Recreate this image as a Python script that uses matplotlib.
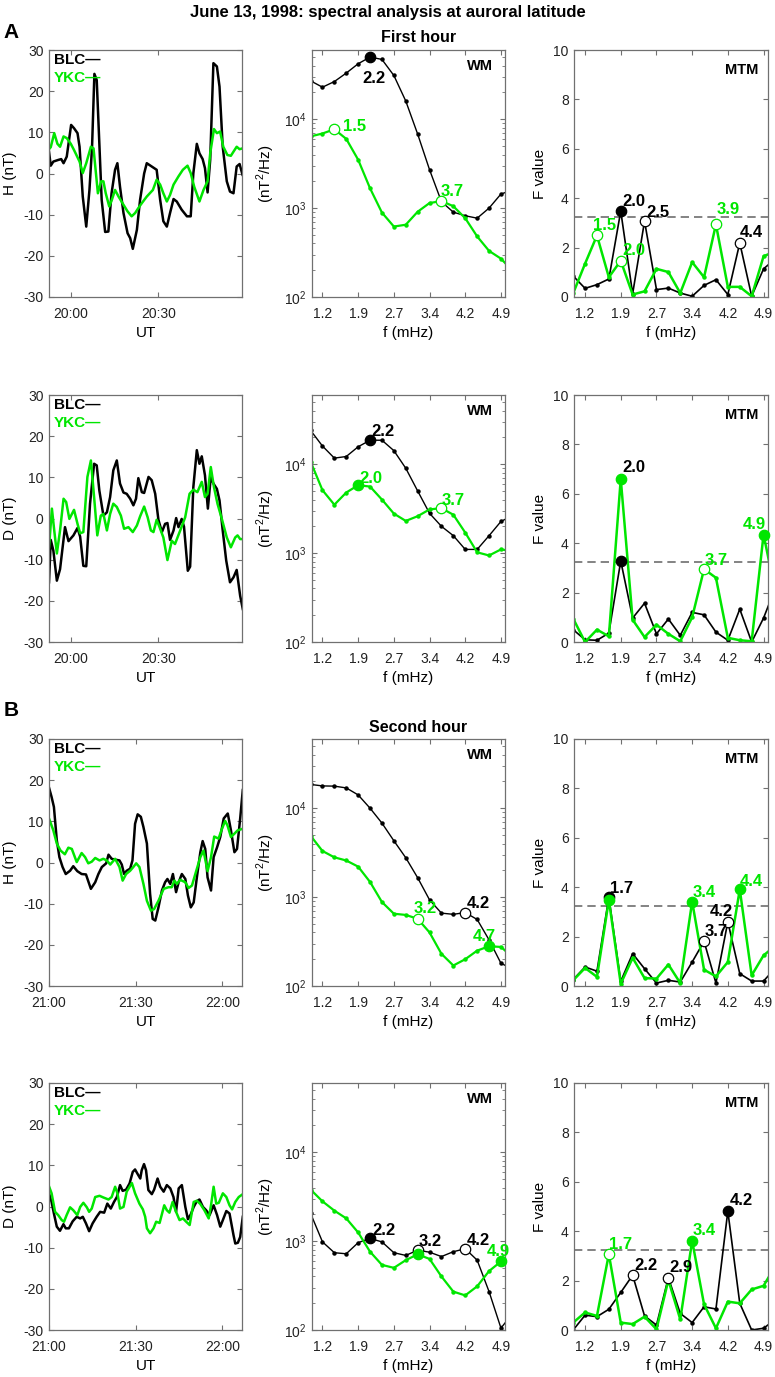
import numpy as np
import matplotlib
matplotlib.use('Agg')
import matplotlib.pyplot as plt
from matplotlib.ticker import LogLocator, NullFormatter

plt.rcParams['font.family'] = ['Liberation Sans', 'DejaVu Sans']
plt.rcParams['axes.unicode_minus'] = False
plt.rcParams['mathtext.fontset'] = 'custom'
plt.rcParams['mathtext.rm'] = 'Liberation Sans'

GREEN = '#00e600'
FRAME = '#707070'

# ---- time series (minutes after the hour mark) ----
h1_t_blc = [-7.6, -7.0, -6.1, -4.4, -3.4, -2.6, -1.5, 0.0, 1.0, 2.2, 2.9, 4.0, 5.2, 6.3, 7.2, 8.0, 8.8, 9.6, 10.5, 11.7,
            12.8, 13.9, 15.1, 15.9, 16.8, 18.0, 19.4, 20.3, 21.2, 22.6, 23.7, 25.1, 26.0, 27.7, 29.4, 30.6, 31.7, 32.9,
            34.0, 35.2, 36.3, 38.0, 39.8, 41.1, 42.0, 43.2, 44.1, 45.2, 46.0, 46.9, 47.8, 48.9, 50.1, 51.0, 52.1, 53.5,
            54.6, 55.8, 56.9, 57.9, 58.9]
h1_blc = [5.3, 1.9, 2.9, 3.3, 3.5, 2.5, 4.1, 11.8, 11.0, 9.8, 6.5, -5.6, -12.9, -4.0, 6.5, 24.2, 22.7, 9.0, -6.4, -14.2,
          -14.1, -4.8, 0.9, 2.5, -3.2, -9.6, -14.5, -15.7, -18.3, -13.7, -6.4, 0.0, 2.5, 1.7, 0.9, -6.4, -11.6, -12.9,
          -9.6, -6.2, -6.8, -8.8, -10.4, -10.4, 0.0, 7.2, 4.9, 3.5, 1.3, -4.6, 3.3, 26.8, 26.0, 21.1, 6.5, -1.9,
          -4.4, -4.8, 1.7, 2.3, -0.3]
h1_t_ykc = [-7.6, -7.0, -5.8, -4.7, -3.8, -2.6, -1.5, -0.1, 1.0, 2.9, 4.0, 5.2, 6.8, 7.7, 9.2, 10.3, 11.1, 11.9, 13.1,
            14.0, 15.1, 16.3, 18.0, 19.4, 20.8, 22.0, 23.1, 24.3, 26.0, 28.1, 29.4, 30.6, 31.7, 32.9, 34.0, 35.2, 36.9,
            38.4, 40.0, 41.1, 42.3, 44.1, 45.5, 46.9, 47.8, 49.1, 50.1, 51.2, 52.3, 53.7, 54.9, 55.8, 56.9, 57.9, 58.9]
h1_ykc = [5.9, 6.4, 9.8, 7.2, 6.5, 9.0, 8.6, 7.2, 5.7, 2.9, 0.1, 2.5, 6.5, 6.1, -4.8, -1.9, -1.9, -4.8, -8.0, -6.4, -4.0,
          -5.6, -7.6, -9.2, -10.4, -9.6, -8.4, -7.2, -5.6, -4.0, -1.5, -2.7, -4.8, -6.8, -5.2, -2.7, -0.7, 0.9, 1.9,
          0.1, -3.2, -6.8, -4.0, -1.9, 4.9, 10.8, 9.8, 10.2, 6.5, 4.5, 4.3, 5.3, 6.5, 5.9, 6.1]

d1_t_blc = [-7.6, -7.0, -6.1, -4.9, -3.8, -2.1, -0.9, 0.8, 2.2, 3.1, 4.2, 5.2, 6.5, 7.9, 8.8, 9.7, 11.1, 12.3, 13.4, 14.5,
            15.7, 16.8, 18.0, 19.1, 20.3, 21.4, 22.3, 23.1, 24.3, 25.1, 26.6, 27.7, 28.9, 30.0, 31.2, 32.3, 33.1, 34.0,
            35.2, 36.1, 36.9, 38.0, 38.8, 40.1, 40.9, 42.0, 43.2, 44.1, 44.9, 46.0, 47.0, 48.0, 48.9, 50.1, 51.0, 52.1,
            53.3, 54.6, 55.8, 56.9, 58.1, 59.0]
d1_blc = [-15.5, -5.2, -7.8, -15.1, -12.3, -2.1, -5.5, -4.1, -2.3, -4.4, -11.5, -11.6, 3.6, 13.3, 12.9, 6.8, 0.7, 1.5,
          5.2, 11.7, 14.1, 8.5, 6.3, 6.0, 4.8, 3.2, 4.8, 9.8, 6.4, 6.2, 10.1, 9.3, 6.0, -0.3, -3.3, -1.3, -1.1, -5.2,
          -2.9, 0.1, -2.1, -0.1, -2.0, -12.7, -11.7, 7.6, 16.6, 13.3, 15.1, 10.5, 2.4, 10.1, 8.5, 7.2, 4.4, -2.9,
          -10.2, -15.5, -14.3, -12.5, -18.8, -22.0]
d1_t_ykc = [-7.6, -6.6, -5.8, -4.9, -3.8, -2.6, -1.7, -0.6, 1.0, 2.2, 3.1, 4.2, 5.6, 6.8, 7.9, 9.0, 10.2, 11.1, 12.3,
            13.4, 14.5, 15.7, 17.1, 18.2, 19.7, 21.2, 22.6, 23.7, 25.1, 26.3, 27.4, 28.3, 29.4, 30.4, 31.7, 33.1, 34.6,
            35.7, 37.5, 39.2, 40.7, 42.0, 43.4, 44.9, 46.0, 46.9, 48.0, 49.1, 50.3, 51.8, 53.5, 54.9, 56.4, 57.2, 58.1,
            58.9]
d1_ykc = [-7.0, 2.4, -2.9, -8.5, -2.9, 4.8, 4.0, -0.1, 2.1, -1.3, -3.6, -3.3, 10.1, 14.1, 5.2, -4.1, 0.7, 1.1, -2.9,
          1.1, 3.6, 2.8, 0.7, -2.5, -2.1, -3.3, -1.7, 0.5, 2.9, 0.3, -2.9, -3.3, -0.3, -2.1, -4.6, -10.1, -5.4, -6.2,
          -2.9, 0.3, 6.0, 7.0, 6.4, 8.9, 5.2, 6.0, 12.5, 7.6, 3.6, -0.1, -4.6, -7.0, -4.6, -4.1, -5.0, -5.0]

h2_t_blc = [0.0, 0.9, 1.7, 2.7, 3.6, 4.7, 5.8, 7.3, 8.4, 9.8, 11.3, 12.8, 14.5, 16.0, 17.1, 18.3, 19.8, 20.6, 21.7, 22.9,
            24.4, 25.2, 26.0, 26.9, 28.1, 28.9, 29.8, 30.7, 31.8, 32.7, 33.9, 35.0, 35.9, 36.8, 37.9, 39.1, 40.2, 41.0,
            42.0, 42.9, 44.0, 44.9, 46.0, 47.2, 48.1, 49.1, 50.1, 51.2, 52.4, 53.2, 54.1, 54.9, 56.1, 57.0, 58.2, 59.3,
            60.5, 61.9, 63.0, 64.2, 65.1, 66.2, 67.1]
h2_blc = [18.2, 15.9, 13.5, 5.4, 1.3, -1.1, -2.8, -2.0, -0.9, -2.1, -2.8, -2.9, -6.4, -4.8, -2.8, -1.1, -0.2, 1.9, 0.9,
          0.7, 0.5, -0.5, -2.8, -2.0, -1.5, 0.5, 9.4, 11.7, 11.1, 8.6, 4.6, -7.6, -13.7, -14.1, -10.9, -6.8, -4.8,
          -4.0, -5.2, -2.8, -7.2, -4.8, -2.8, -4.0, -8.0, -10.9, -9.7, -3.6, 2.5, 5.2, 3.3, -3.6, -6.8, 1.3, 3.7, 6.2,
          10.7, 11.9, 7.8, 2.5, 3.3, 10.7, 17.6]
h2_t_ykc = [0.0, 1.5, 2.7, 4.0, 5.5, 6.7, 7.9, 9.6, 11.3, 12.5, 13.6, 14.8, 16.0, 17.5, 18.8, 20.0, 21.2, 22.9, 24.4,
            25.5, 26.7, 28.1, 29.2, 30.2, 31.3, 32.7, 33.9, 35.3, 36.4, 37.9, 39.7, 41.4, 42.5, 43.4, 44.3, 45.4, 47.2,
            48.3, 49.5, 51.0, 52.4, 53.5, 54.9, 56.1, 57.2, 58.7, 59.9, 61.0, 61.8, 63.0, 64.2, 65.3, 67.1]
h2_ykc = [10.7, 7.8, 4.6, 2.9, 2.0, 3.6, 3.3, 0.1, 2.3, 1.3, -0.2, 0.2, 1.1, 0.5, 0.9, 0.5, -0.5, 0.9, -1.1, -4.4, -2.8,
          -2.0, -1.1, -0.2, -1.1, -5.2, -9.3, -11.7, -11.3, -9.3, -6.4, -6.0, -6.0, -4.4, -5.2, -4.2, -4.8, -6.2, -5.6,
          -2.0, 1.3, 2.9, -2.1, 1.3, 6.3, 5.8, 8.2, 10.1, 9.0, 6.2, 7.0, 7.8, 8.2]

d2_t_blc = [0.0, 0.9, 1.7, 2.7, 3.8, 5.0, 5.8, 6.9, 8.2, 9.6, 10.8, 11.7, 12.8, 13.9, 15.1, 16.5, 17.7, 19.1, 20.2, 21.4,
            22.5, 23.5, 24.6, 25.5, 26.7, 27.9, 29.0, 29.8, 30.6, 31.6, 32.1, 32.9, 33.6, 34.4, 35.6, 36.4, 37.6, 38.5,
            39.7, 40.8, 42.0, 43.1, 44.0, 44.9, 46.0, 47.2, 48.1, 49.1, 50.1, 51.2, 52.1, 53.3, 54.4, 55.6, 57.0, 58.2,
            59.3, 60.2, 61.4, 62.5, 63.9, 64.5, 65.4, 66.2, 67.1]
d2_blc = [3.2, 1.1, -1.7, -4.9, -5.9, -4.3, -5.3, -5.3, -3.6, -2.5, -2.9, -2.5, -4.1, -6.0, -4.1, -2.5, -1.3, -1.5, 0.7,
          -0.5, 1.1, 2.3, 5.2, 3.8, 4.1, 5.6, 8.4, 9.0, 8.0, 6.8, 8.8, 10.3, 8.8, 4.0, 3.0, 4.1, 6.8, 4.8, 3.6, 5.2,
          4.4, 2.3, -1.3, 4.4, 5.2, -0.1, -3.1, -1.9, -0.1, 1.3, 1.7, -0.1, -0.9, -2.1, 0.3, -2.1, -4.9, -3.3, -1.1,
          -1.7, -7.0, -9.0, -8.8, -7.4, -2.5]
d2_t_ykc = [0.0, 0.9, 2.1, 3.2, 4.4, 5.2, 6.1, 7.3, 8.4, 9.8, 10.8, 11.9, 13.1, 13.9, 14.8, 16.0, 17.5, 18.8, 20.6,
            21.7, 22.9, 23.7, 24.6, 25.8, 26.9, 28.7, 29.8, 31.3, 32.5, 33.3, 33.9, 35.0, 36.2, 37.1, 38.3, 39.9, 40.8,
            41.7, 42.8, 44.0, 45.2, 46.4, 47.5, 48.7, 50.1, 51.2, 52.4, 53.8, 55.3, 56.1, 57.0, 57.9, 58.8, 60.2, 61.4,
            62.5, 63.4, 64.5, 65.7, 67.1]
d2_ykc = [4.9, 3.2, -1.3, -2.1, -3.3, -3.7, -2.1, -0.2, -0.9, -2.1, -0.1, 0.9, -0.2, -1.3, -0.5, 2.3, 2.6, 2.2, 1.7,
          2.3, 4.8, 3.2, -0.5, -0.1, 3.6, 5.7, 3.2, 0.7, -0.7, -2.5, -5.3, -6.5, -5.3, -3.7, -4.0, 0.3, -0.9, -1.5,
          1.1, -1.3, -3.3, -2.9, -3.7, -4.5, 1.1, 1.4, 0.6, -0.9, -2.9, 0.3, 4.8, 0.7, 0.9, 3.2, 2.3, 0.3, -0.7, 1.1,
          2.3, 3.0]

# ---- spectra ----
f_mhz = [0.977, 1.221, 1.465, 1.709, 1.953, 2.197, 2.441, 2.686, 2.930, 3.174, 3.418, 3.662, 3.906, 4.150, 4.395,
         4.639, 4.883, 5.127]
f_tick_idx = [1, 4, 7, 10, 13, 16]
f_tick_labels = ['1.2', '1.9', '2.7', '3.4', '4.2', '4.9']

wm_h1_blc = [2.7e4, 2.29e4, 2.65e4, 3.3e4, 4.2e4, 5.0e4, 4.7e4, 3.1e4, 1.6e4, 6.8e3, 2.7e3, 1.18e3, 9.0e2, 8.2e2,
             7.7e2, 1.0e3, 1.44e3, 1.6e3]
wm_h1_ykc = [6.4e3, 6.9e3, 7.7e3, 6.0e3, 3.5e3, 1.67e3, 8.9e2, 6.2e2, 6.5e2, 9.1e2, 1.14e3, 1.2e3, 1.05e3, 7.7e2,
             4.8e2, 3.3e2, 2.7e2, 1.95e2]
mtm_h1_blc = [0.85, 0.35, 0.5, 0.73, 3.48, 0.13, 3.07, 0.3, 0.36, 0.16, 0.03, 0.47, 0.7, 0.1, 2.19, 0.03, 1.14, 1.55]
mtm_h1_ykc = [0.15, 1.35, 2.49, 0.8, 1.47, 0.1, 0.23, 1.14, 1.01, 0.16, 1.41, 0.8, 2.94, 0.41, 0.41, 0.03, 1.65, 1.85]

wm_d1_blc = [2.4e4, 1.6e4, 1.17e4, 1.22e4, 1.57e4, 1.86e4, 1.86e4, 1.42e4, 9.0e3, 5.0e3, 2.8e3, 2.0e3, 1.57e3, 1.1e3,
             1.1e3, 1.57e3, 2.27e3, 2.65e3]
wm_d1_ykc = [1.07e4, 5.1e3, 3.5e3, 4.8e3, 5.8e3, 5.6e3, 4.0e3, 2.78e3, 2.3e3, 2.6e3, 3.1e3, 3.2e3, 2.7e3, 1.7e3, 1.02e3,
             9.4e2, 1.1e3, 1.05e3]
mtm_d1_blc = [0.5, 0.09, 0.07, 0.36, 3.28, 0.97, 1.57, 0.33, 0.93, 0.27, 1.2, 1.1, 0.4, 0.07, 1.33, 0.0, 0.97, 2.2]
mtm_d1_ykc = [0.95, 0.0, 0.5, 0.23, 6.6, 0.9, 0.2, 0.7, 0.33, 0.03, 1.0, 2.95, 2.6, 0.17, 0.07, 0.03, 4.35, 2.0]

wm_h2_blc = [1.85e4, 1.78e4, 1.77e4, 1.69e4, 1.41e4, 1.0e4, 6.8e3, 4.3e3, 2.77e3, 1.65e3, 9.3e2, 6.6e2, 6.4e2, 6.7e2,
             5.6e2, 3.3e2, 1.8e2, 1.55e2]
wm_h2_ykc = [4.9e3, 3.3e3, 2.8e3, 2.58e3, 2.2e3, 1.48e3, 8.8e2, 6.5e2, 6.3e2, 5.7e2, 4.0e2, 2.3e2, 1.7e2, 2.0e2, 2.5e2,
             2.8e2, 2.75e2, 2.1e2]
mtm_h2_blc = [0.26, 0.77, 0.6, 3.6, 0.19, 1.31, 0.7, 0.12, 0.23, 0.16, 0.97, 1.81, 0.12, 2.6, 0.5, 0.2, 0.2, 0.73]
mtm_h2_ykc = [0.23, 0.73, 0.37, 3.48, 0.09, 1.14, 0.32, 0.3, 0.87, 0.12, 3.42, 0.66, 0.39, 0.97, 3.91, 0.43, 1.24, 1.63]

wm_d2_blc = [2.05e3, 9.8e2, 7.4e2, 7.2e2, 9.6e2, 1.07e3, 9.8e2, 7.4e2, 6.9e2, 7.9e2, 7.5e2, 6.7e2, 7.6e2, 8.2e2,
             6.1e2, 2.7e2, 1.05e2, 1.55e2]
wm_d2_ykc = [3.8e3, 2.8e3, 2.2e3, 1.8e3, 1.25e3, 7.6e2, 5.4e2, 5.0e2, 6.1e2, 7.1e2, 6.3e2, 4.0e2, 2.7e2, 2.45e2, 3.1e2,
             4.6e2, 5.9e2, 6.7e2]
mtm_d2_blc = [0.0, 0.6, 0.54, 0.84, 1.52, 2.22, 0.57, 0.2, 2.12, 0.67, 0.3, 0.94, 0.85, 4.81, 1.08, 0.0, 0.07, 0.43]
mtm_d2_ykc = [0.3, 0.71, 0.57, 3.07, 0.3, 0.24, 0.54, 0.03, 2.02, 0.43, 3.61, 1.04, 0.07, 1.15, 1.08, 1.64, 1.79, 2.6]

f_threshold = 3.25

# peaks: (station, freq index, label, filled)
pk_wm_h1 = [('BLC', 5, '2.2', True), ('YKC', 2, '1.5', False), ('YKC', 11, '3.7', False)]
pk_mtm_h1 = [('BLC', 4, '2.0', True), ('BLC', 6, '2.5', False), ('BLC', 14, '4.4', False),
             ('YKC', 2, '1.5', False), ('YKC', 4, '2.0', False), ('YKC', 12, '3.9', False)]
pk_wm_d1 = [('BLC', 5, '2.2', True), ('YKC', 4, '2.0', True), ('YKC', 11, '3.7', False)]
pk_mtm_d1 = [('BLC', 4, '2.0', True), ('YKC', 4, None, True), ('YKC', 11, '3.7', False), ('YKC', 16, '4.9', True)]
pk_wm_h2 = [('YKC', 9, '3.2', False), ('BLC', 13, '4.2', False), ('YKC', 15, '4.7', True)]
pk_mtm_h2 = [('BLC', 3, '1.7', True), ('YKC', 3, None, True), ('YKC', 10, '3.4', True), ('YKC', 14, '4.4', True),
             ('BLC', 11, '3.7', False), ('BLC', 13, '4.2', False)]
pk_wm_d2 = [('BLC', 5, '2.2', True), ('BLC', 9, '3.2', False), ('YKC', 9, None, True), ('BLC', 13, '4.2', False),
            ('YKC', 16, '4.9', True)]
pk_mtm_d2 = [('YKC', 3, '1.7', False), ('BLC', 5, '2.2', False), ('BLC', 8, '2.9', False), ('YKC', 10, '3.4', True),
             ('BLC', 13, '4.2', True)]

# label offsets from the marker, in pixels (x right, y up)
off_wm_h1 = [(4, -21), (20, 3), (11, 10)]
off_mtm_h1 = [(13, 10), (13, 9), (12, 10), (8, 10), (13, 10), (12, 15)]
off_wm_d1 = [(13, 9), (13, 7), (12, 8)]
off_mtm_d1 = [(13, 93), (0, 0), (12, 9), (-9, 10)]
off_wm_h2 = [(8, 10), (13, 9), (-5, 10)]
off_mtm_h2 = [(13, 9), (0, 0), (12, 9), (12, 8), (12, 10), (-7, 10)]
off_wm_d2 = [(14, 8), (13, 9), (0, 0), (13, 8), (-3, 10)]
off_mtm_d2 = [(12, 10), (13, 10), (13, 10), (12, 10), (13, 11)]

W, H = 775, 1377
fig = plt.figure(figsize=(W / 100, H / 100), dpi=100)

col_left = [49, 311.7, 574.3]
col_w = 193.5
row_top = [50, 395, 739, 1083]
row_h = 247


def make_ax(r, c):
    return fig.add_axes([col_left[c] / W, 1 - (row_top[r] + row_h) / H, col_w / W, row_h / H])


def style(ax):
    for s in ax.spines.values():
        s.set_color(FRAME)
        s.set_linewidth(0.9)
    ax.tick_params(which='both', direction='in', top=True, right=True, color=FRAME,
                   labelcolor='#222222', labelsize=10)
    ax.tick_params(axis='y', pad=4)
    ax.tick_params(axis='x', pad=7)
    ax.tick_params(which='major', length=3.5, width=0.8)
    ax.tick_params(which='minor', length=2, width=0.6)


def ts_panel(ax, tb, vb, ty, vy, ylab, ticks, labels, xlim):
    ax.plot(tb, vb, color='black', lw=1.8)
    ax.plot(ty, vy, color=GREEN, lw=1.8)
    ax.set_ylim(-30, 30)
    ax.set_yticks(range(-30, 31, 10))
    ax.set_xlim(xlim)
    ax.set_xticks(ticks)
    ax.set_xticklabels(labels)
    style(ax)
    ax.set_ylabel(ylab, fontsize=11)
    ax.yaxis.set_label_coords(-0.165, 0.5)
    ax.set_xlabel('UT', fontsize=11)
    ax.xaxis.set_label_coords(0.5, -0.118)
    ax.text(0.026, 0.96, 'BLC\u2014', transform=ax.transAxes, fontsize=11, fontweight='bold',
            color='black', va='center', ha='left')
    ax.text(0.026, 0.887, 'YKC\u2014', transform=ax.transAxes, fontsize=11, fontweight='bold',
            color=GREEN, va='center', ha='left')


def spec_panel(ax, vb, vy, peaks, offs, kind):
    if kind == 'WM':
        ax.plot(f_mhz, vb, color='black', lw=1.0, marker='o', ms=2.2)
        ax.plot(f_mhz, vy, color=GREEN, lw=1.6, marker='o', ms=2.2)
        ax.set_yscale('log')
        ax.set_ylim(1e2, 6e4)
        ax.yaxis.set_major_locator(LogLocator(base=10, numticks=10))
        ax.yaxis.set_minor_locator(LogLocator(base=10, subs=np.arange(2, 10), numticks=20))
        ax.yaxis.set_minor_formatter(NullFormatter())
        ax.set_ylabel('(nT$^2$/Hz)', fontsize=11)
        ax.yaxis.set_label_coords(-0.18, 0.5)
        ax.text(0.87, 0.935, 'WM', transform=ax.transAxes, fontsize=10.5, fontweight='bold',
                ha='center', va='center')
    else:
        ax.axhline(f_threshold, color='#6e6e6e', lw=1.2, ls=(0, (5, 3)))
        ax.plot(f_mhz, vb, color='black', lw=1.2, marker='o', ms=2.2)
        ax.plot(f_mhz, vy, color=GREEN, lw=1.8, marker='o', ms=2.2)
        ax.set_ylim(0, 10)
        ax.set_yticks(range(0, 11, 2))
        ax.set_ylabel('F value', fontsize=11)
        ax.yaxis.set_label_coords(-0.14, 0.5)
        ax.text(0.866, 0.92, 'MTM', transform=ax.transAxes, fontsize=10.5, fontweight='bold',
                ha='center', va='center')
    ax.set_xlim(1.0, 4.97)
    ax.set_xticks([f_mhz[i] for i in f_tick_idx])
    ax.set_xticklabels(f_tick_labels)
    style(ax)
    ax.set_xlabel('f (mHz)', fontsize=11)
    ax.xaxis.set_label_coords(0.5, -0.118)
    series = {'BLC': vb, 'YKC': vy}
    colors = {'BLC': 'black', 'YKC': GREEN}
    for (st, i, lab, filled), (dx, dy) in zip(peaks, offs):
        c = colors[st]
        y = series[st][i]
        ax.plot(f_mhz[i], y, 'o', ms=7.5, mec=c, mfc=c if filled else 'white', mew=0.9,
                zorder=5, clip_on=False)
        if lab:
            ax.annotate(lab, (f_mhz[i], y), xytext=(dx, dy), textcoords='offset pixels',
                        fontsize=12, fontweight='bold', color=c, ha='center', va='center',
                        zorder=6, annotation_clip=False)


fig.text(0.5, 1 - 12 / H, 'June 13, 1998: spectral analysis at auroral latitude', ha='center', va='center',
         fontsize=12, fontweight='bold')
fig.text(11 / W, 1 - 33 / H, 'A', ha='center', va='center', fontsize=15, fontweight='bold')
fig.text(11 / W, 1 - 710 / H, 'B', ha='center', va='center', fontsize=15, fontweight='bold')

lim1 = (-7.6, 58.9)
lim2 = (0.0, 67.0)

ax = make_ax(0, 0)
ts_panel(ax, h1_t_blc, h1_blc, h1_t_ykc, h1_ykc, 'H (nT)', [0, 30], ['20:00', '20:30'], lim1)
ax = make_ax(0, 1)
spec_panel(ax, wm_h1_blc, wm_h1_ykc, pk_wm_h1, off_wm_h1, 'WM')
ax.text(0.552, 1 + 13 / row_h, 'First hour', transform=ax.transAxes, ha='center', va='center',
        fontsize=11.5, fontweight='bold')
ax = make_ax(0, 2)
spec_panel(ax, mtm_h1_blc, mtm_h1_ykc, pk_mtm_h1, off_mtm_h1, 'MTM')

ax = make_ax(1, 0)
ts_panel(ax, d1_t_blc, d1_blc, d1_t_ykc, d1_ykc, 'D (nT)', [0, 30], ['20:00', '20:30'], lim1)
ax = make_ax(1, 1)
spec_panel(ax, wm_d1_blc, wm_d1_ykc, pk_wm_d1, off_wm_d1, 'WM')
ax = make_ax(1, 2)
spec_panel(ax, mtm_d1_blc, mtm_d1_ykc, pk_mtm_d1, off_mtm_d1, 'MTM')

ax = make_ax(2, 0)
ts_panel(ax, h2_t_blc, h2_blc, h2_t_ykc, h2_ykc, 'H (nT)', [0, 30, 60], ['21:00', '21:30', '22:00'], lim2)
ax = make_ax(2, 1)
spec_panel(ax, wm_h2_blc, wm_h2_ykc, pk_wm_h2, off_wm_h2, 'WM')
ax.text(0.552, 1 + 12 / row_h, 'Second hour', transform=ax.transAxes, ha='center', va='center',
        fontsize=11.5, fontweight='bold')
ax = make_ax(2, 2)
spec_panel(ax, mtm_h2_blc, mtm_h2_ykc, pk_mtm_h2, off_mtm_h2, 'MTM')

ax = make_ax(3, 0)
ts_panel(ax, d2_t_blc, d2_blc, d2_t_ykc, d2_ykc, 'D (nT)', [0, 30, 60], ['21:00', '21:30', '22:00'], lim2)
ax = make_ax(3, 1)
spec_panel(ax, wm_d2_blc, wm_d2_ykc, pk_wm_d2, off_wm_d2, 'WM')
ax = make_ax(3, 2)
spec_panel(ax, mtm_d2_blc, mtm_d2_ykc, pk_mtm_d2, off_mtm_d2, 'MTM')

fig.savefig('out.png', dpi=100)
